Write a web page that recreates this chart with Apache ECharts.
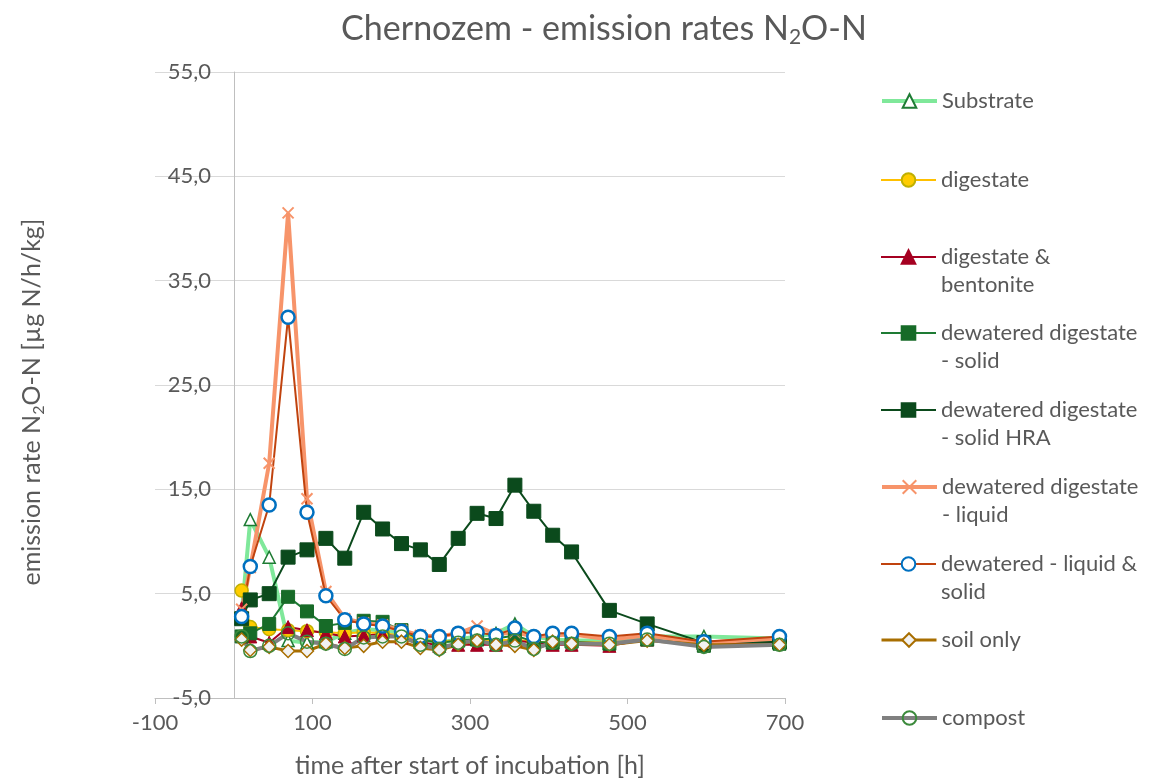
<!DOCTYPE html>
<html>
<head>
<meta charset="utf-8">
<script src="https://cdn.jsdelivr.net/npm/echarts@6/dist/echarts.min.js"></script>
<style>html,body{margin:0;padding:0;background:#fff}#c{width:1166px;height:779px}</style>
</head>
<body>
<div id="c"></div>
<script>
const times = [10,21,45,69,93,117,141,165,189,213,237,261,285,309,333,357,381,405,429,477,525,597,693];
const substrate = [3.0,12.1,8.5,0.5,0.3,0.4,1.2,1.6,1.5,1.2,0.7,0.3,0.6,0.9,1.2,2.1,0.9,0.6,0.5,0.5,0.9,0.9,0.7];
const digestate = [5.3,1.8,1.6,1.5,1.4,1.3,1.2,1.3,1.2,1.0,0.6,0.4,0.5,0.6,0.5,0.6,0.4,0.3,0.4,0.3,0.6,0.2,0.4];
const bentonite = [3.6,0.9,0.3,1.8,1.5,1.2,0.9,1.0,1.1,0.8,0.4,0.0,0.1,0.1,0.1,0.5,0.3,0.1,0.1,0.0,0.6,0.1,0.3];
const solid = [0.9,1.2,2.1,4.7,3.3,1.9,2.2,2.4,2.3,1.5,0.6,0.3,0.5,0.6,0.7,1.0,0.4,0.3,0.4,0.2,0.6,0.0,0.2];
const solidHRA = [2.6,4.4,5.0,8.5,9.2,10.3,8.4,12.8,11.2,9.8,9.2,7.8,10.3,12.7,12.2,15.4,12.9,10.6,9.0,3.4,2.1,0.3,0.4];
const liquid = [3.5,7.5,17.5,41.5,14.1,5.2,2.6,2.2,2.0,1.5,1.0,0.9,1.2,1.9,1.1,1.3,0.9,1.0,1.1,0.6,1.0,0.3,0.7];
const liquidSolid = [2.8,7.6,13.5,31.5,12.8,4.8,2.5,2.1,1.9,1.4,0.9,0.9,1.2,1.3,1.0,1.7,0.9,1.2,1.2,0.9,1.2,0.4,0.9];
const soilOnly = [0.6,-0.4,-0.1,-0.5,-0.5,0.2,-0.2,0.0,0.4,0.4,-0.2,-0.4,0.1,0.5,0.1,0.0,-0.4,0.4,0.2,0.1,0.5,0.1,0.1];
const compost = [0.9,-0.5,0.0,1.2,0.4,0.2,-0.3,0.8,0.9,0.9,0.1,-0.3,0.3,0.5,0.1,0.5,-0.3,0.3,0.2,0.2,0.6,-0.1,0.1];

const seriesNames = ['Substrate','digestate','digestate & bentonite','dewatered digestate - solid','dewatered digestate - solid HRA','dewatered digestate - liquid','dewatered - liquid & solid','soil only','compost'];
const legendLabels = ['Substrate','digestate','digestate &\nbentonite','dewatered digestate\n- solid','dewatered digestate\n- solid HRA','dewatered digestate\n- liquid','dewatered - liquid &\nsolid','soil only','compost'];
const xTicks = {min:-100, max:700, interval:200};
const yTicks = {min:-5, max:55, interval:10};

const FONT = 'Lato';
const TXT = '#595959';
const pair = v => v.map((y,i)=>[times[i], y]);

const styles = [
  {data:substrate, line:'#7FE89A', lw:4, symbol:'triangle', size:12, fill:'#ffffff', border:'#1E7B34', bw:1.5},
  {data:digestate, line:'#FFC000', lw:2, symbol:'circle', size:13, fill:'#FFCC00', border:'#C0B000', bw:1.5},
  {data:bentonite, line:'#A50021', lw:2, symbol:'triangle', size:13, fill:'#A50021', border:'#A50021', bw:1},
  {data:solid, line:'#1E7B34', lw:2, symbol:'rect', size:13, fill:'#176B28', border:'#176B28', bw:1},
  {data:solidHRA, line:'#0B4A1C', lw:2, symbol:'rect', size:14, fill:'#0B4A1C', border:'#0B4A1C', bw:1},
  {data:liquid, line:'#F7946A', lw:4, symbol:'path://M0,0L10,10M10,0L0,10', size:11, fill:'#F7946A', border:'#F7946A', bw:2},
  {data:liquidSolid, line:'#C0430E', lw:2, symbol:'circle', size:13, fill:'#ffffff', border:'#0070C0', bw:2.5},
  {data:soilOnly, line:'#A86E00', lw:3, symbol:'diamond', size:13, fill:'#F2F2F2', border:'#A86E00', bw:1.5},
  {data:compost, line:'#808080', lw:4, symbol:'circle', size:13, fill:'rgba(255,255,255,0)', border:'#3C8A3C', bw:1.5}
];

const series = styles.map((s,i)=>({
  name: seriesNames[i],
  type: 'line',
  data: pair(s.data),
  symbol: s.symbol,
  symbolSize: s.size,
  showAllSymbol: true,
  lineStyle: {color: s.line, width: s.lw},
  itemStyle: {color: s.fill, borderColor: s.border, borderWidth: s.bw},
  emphasis: {disabled: true},
  animation: false
}));

const iconCenters = [101,180,257,333,410,487,564,640,718];
const LH = 28;
const legends = seriesNames.map((n,i)=>{
  const two = legendLabels[i].indexOf('\n') >= 0;
  const top = two ? iconCenters[i] - 1.5*LH : iconCenters[i] - LH/2;
  return {
    left: 880, top: top, padding: 0, orient: 'vertical',
    itemWidth: 55, itemHeight: 17, itemGap: 0,
    selectedMode: false,
    lineStyle: {width: 'inherit'},
    data: [{name: n}],
    formatter: () => two ? ' \n' + legendLabels[i] : legendLabels[i],
    textStyle: {fontFamily: FONT, fontSize: 22, color: TXT, lineHeight: LH}
  };
});

const chart = echarts.init(document.getElementById('c'), null, {renderer:'canvas'});
chart.setOption({
  backgroundColor: '#ffffff',
  animation: false,
  title: {
    text: 'Chernozem - emission rates N{sub|2}O-N',
    left: 599, top: 6, textAlign: 'center',
    textStyle: {fontFamily: FONT, fontSize: 34, fontWeight: 'normal', color: TXT,
      rich: {sub: {fontFamily: FONT, fontSize: 21, color: TXT, padding: [16,0,0,0]}}}
  },
  legend: legends,
  grid: {left: 155, right: 381, top: 72, bottom: 81, containLabel: false, outerBoundsMode: 'none'},
  xAxis: {
    type: 'value', min: xTicks.min, max: xTicks.max, interval: xTicks.interval,
    name: 'time after start of incubation [h]', nameLocation: 'middle', nameGap: 55,
    nameTextStyle: {fontFamily: FONT, fontSize: 25, color: TXT},
    axisLine: {onZero: false, lineStyle: {color: '#BFBFBF', width: 1}},
    axisTick: {show: true, length: 6, lineStyle: {color: '#BFBFBF'}},
    axisLabel: {fontFamily: FONT, fontSize: 22, color: TXT, margin: 14},
    splitLine: {show: false}
  },
  yAxis: {
    type: 'value', min: yTicks.min, max: yTicks.max, interval: yTicks.interval,
    name: '{t|emission rate N}{sub|2}{t|O-N [µg N/h/kg]}{sp| }', nameLocation: 'middle', nameGap: 108,
    nameTextStyle: {fontFamily: FONT, fontSize: 25, color: TXT,
      rich: {
        t: {fontFamily: FONT, fontSize: 25, color: TXT},
        sub: {fontFamily: FONT, fontSize: 16, color: TXT, padding: [14,0,0,0]},
        sp: {width: 34, fontSize: 25}
      }},
    axisLine: {show: true, onZero: true, lineStyle: {color: '#BFBFBF', width: 1}},
    axisTick: {show: false},
    axisLabel: {fontFamily: FONT, fontSize: 22, color: TXT, margin: -56,
      formatter: v => v.toFixed(1).replace('.', ',')},
    splitLine: {show: true, lineStyle: {color: '#D9D9D9', width: 1}}
  },
  series: series
});
</script>
</body>
</html>
